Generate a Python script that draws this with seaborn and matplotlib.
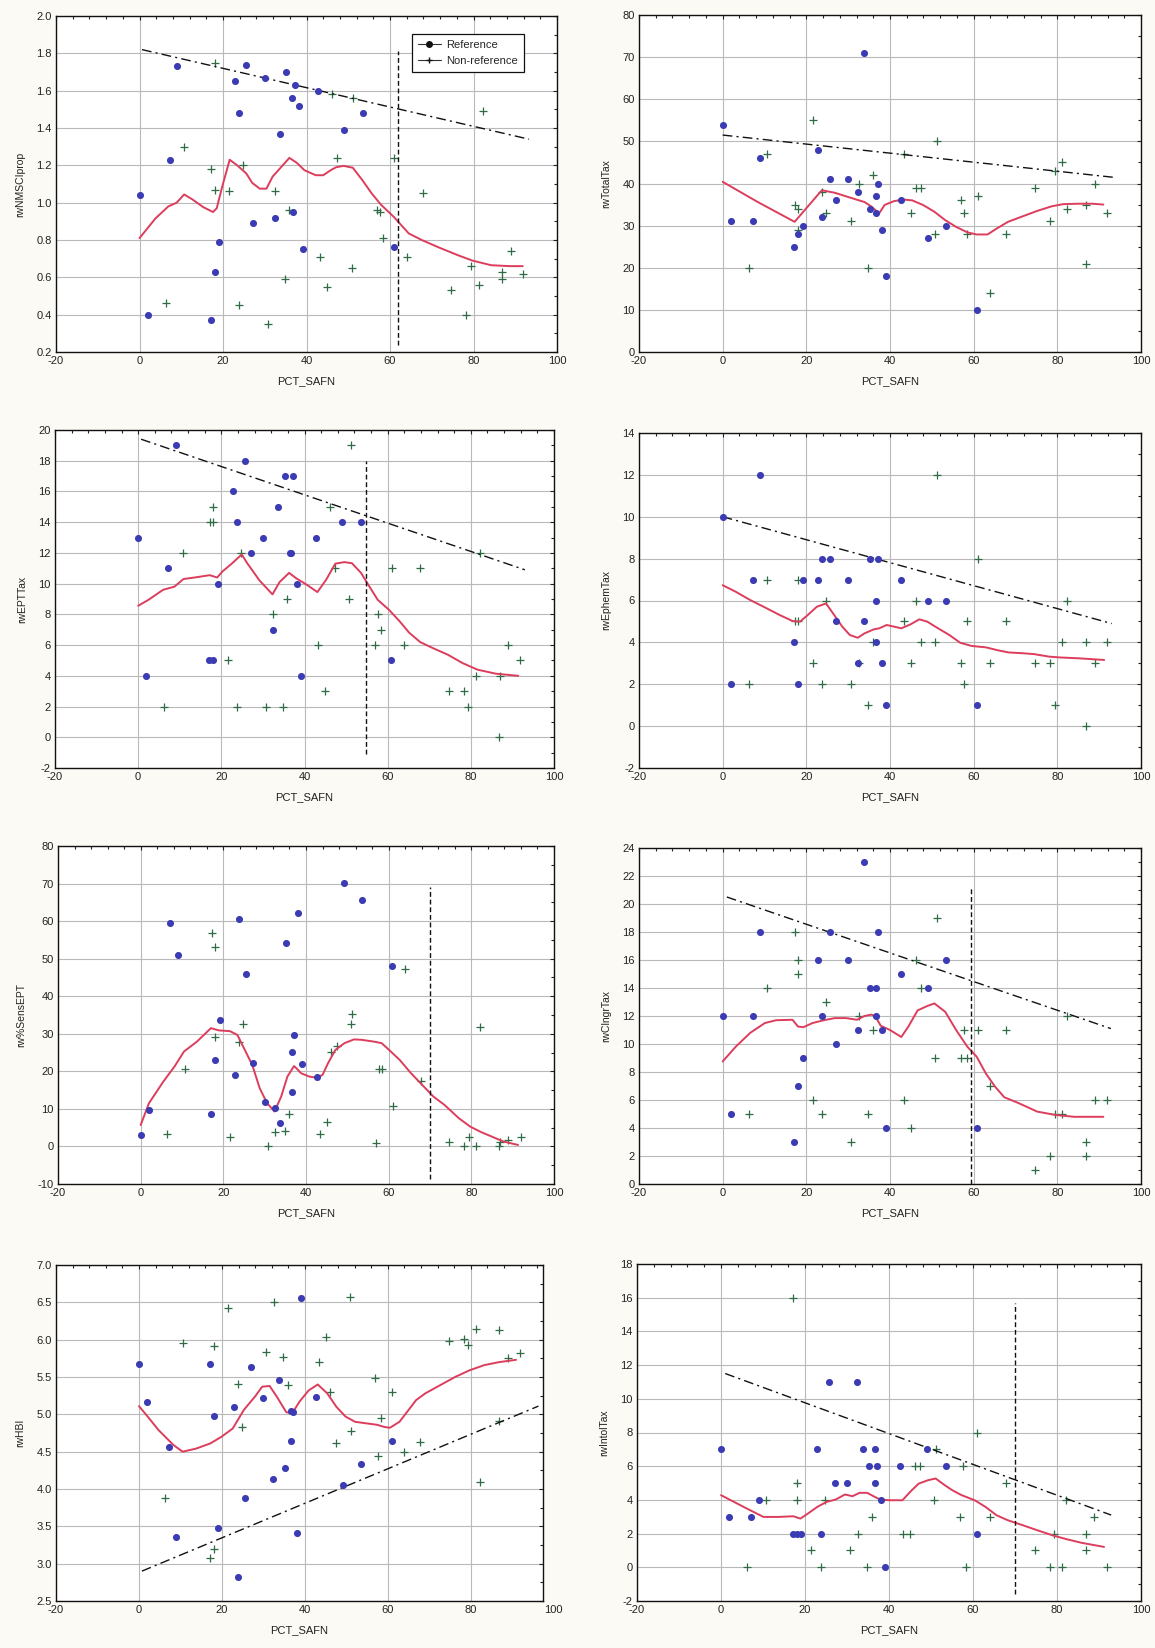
import pandas as pd
import matplotlib
matplotlib.use("Agg")
import matplotlib.pyplot as plt
from matplotlib.ticker import MultipleLocator, FormatStrFormatter
from matplotlib.lines import Line2D
import seaborn as sns

# site positions (PCT_SAFN)
ref_x = [0, 2, 7.2, 9, 17.1, 18, 19.1, 22.8, 23.8, 25.6, 27.1, 30, 32.4, 33.7,
         35.2, 36.6, 36.7, 37.2, 38.1, 39.1, 42.7, 49.1, 53.5, 60.9]
nonref_x = [6.3, 10.7, 17.2, 18.1, 18.1, 21.5, 23.8, 24.8, 30.7, 32.5, 34.8, 35.9,
            43.3, 45.0, 46.1, 47.4, 50.8, 51.2, 56.9, 57.6, 58.3, 61.0, 64.0, 67.8,
            74.7, 78.3, 79.4, 81.2, 82.2, 86.8, 86.9, 88.9, 91.9]

# rwNMSCIprop
nmsci_ref = [1.04, 0.40, 1.23, 1.73, 0.37, 0.63, 0.79, 1.65, 1.48, 1.74, 0.89, 1.67,
             0.92, 1.37, 1.70, 1.56, 0.95, 1.63, 1.52, 0.75, 1.60, 1.39, 1.48, 0.76]
nmsci_non = [0.46, 1.30, 1.18, 1.75, 1.07, 1.06, 0.45, 1.20, 0.35, 1.06, 0.59, 0.96,
             0.71, 0.55, 1.58, 1.24, 0.65, 1.56, 0.96, 0.95, 0.81, 1.24, 0.71, 1.05,
             0.53, 0.40, 0.66, 0.56, 1.49, 0.59, 0.63, 0.74, 0.62]
nmsci_lw_x = [0, 3.8, 6.9, 8.9, 10.7, 12.7, 15.2, 17.6, 18.5, 19.8, 21.6, 23.4, 25.6,
              27.0, 28.8, 30.4, 31.9, 33.9, 35.9, 37.7, 39.5, 42.2, 44.0, 45.8, 47.1,
              48.9, 51.1, 53.4, 55.6, 57.8, 60.9, 64.5, 67.6, 71.7, 76.1, 79.7, 84.2,
              88.6, 91.8]
nmsci_lw_y = [0.81, 0.915, 0.98, 1.0, 1.044, 1.017, 0.977, 0.95, 0.97, 1.085, 1.23,
              1.20, 1.156, 1.106, 1.075, 1.075, 1.14, 1.19, 1.24, 1.213, 1.174, 1.147,
              1.147, 1.174, 1.19, 1.197, 1.187, 1.12, 1.05, 0.99, 0.924, 0.835, 0.80,
              0.76, 0.72, 0.69, 0.665, 0.66, 0.66]
nmsci_up_x = [0.6, 93.3]
nmsci_up_y = [1.82, 1.34]
nmsci_vline = [61.8, 0.24, 1.81]

# rwTotalTax
total_ref = [54, 31, 31, 46, 25, 28, 30, 48, 32, 41, 36, 41, 38, 71, 34, 37, 33, 40,
             29, 18, 36, 27, 30, 10]
total_non = [20, 47, 35, 34, 29, 55, 38, 33, 31, 40, 20, 42, 47, 33, 39, 39, 28, 50,
             36, 33, 28, 37, 14, 28, 39, 31, 43, 45, 34, 21, 35, 40, 33]
total_lw_x = [0, 8.4, 17.2, 23.7, 26.8, 30.3, 33.9, 35.6, 37.4, 38.7, 40.9, 43.1, 45.3,
              47.9, 50.6, 53.2, 55.8, 58.5, 60.7, 63.3, 65.5, 68.2, 71.7, 75.2, 78.7,
              81.4, 84.9, 88.4, 91.0]
total_lw_y = [40.4, 35.6, 30.9, 38.4, 37.8, 36.7, 35.6, 34.5, 32.9, 34.9, 35.8, 36.2,
              36.0, 34.9, 33.3, 31.3, 29.7, 28.4, 27.9, 27.9, 29.3, 30.9, 32.2, 33.5,
              34.6, 35.1, 35.2, 35.2, 35.0]
total_up_x = [0, 94.1]
total_up_y = [51.5, 41.4]

# rwEPTTax
ept_ref = [13, 4, 11, 19, 5, 5, 10, 16, 14, 18, 12, 13, 7, 15, 17, 12, 12, 17, 10, 4,
           13, 14, 14, 5]
ept_non = [2, 12, 14, 15, 14, 5, 2, 12, 2, 8, 2, 9, 6, 3, 15, 11, 9, 19, 6, 8, 7, 11,
           6, 11, 3, 3, 2, 4, 12, 0, 4, 6, 5]
ept_lw_x = [0, 2.5, 6.0, 8.7, 10.9, 13.6, 17.2, 19.0, 20.3, 22.5, 24.9, 26.3, 29.2,
            32.3, 34.0, 36.3, 38.0, 40.7, 43.1, 45.2, 47.4, 49.6, 51.4, 53.6, 55.4,
            57.6, 60.3, 62.9, 65.2, 67.8, 70.9, 74.5, 78.0, 81.6, 86.0, 91.4]
ept_lw_y = [8.56, 8.95, 9.6, 9.8, 10.3, 10.4, 10.55, 10.4, 10.8, 11.3, 11.9, 11.3,
            10.2, 9.3, 10.1, 10.7, 10.35, 9.9, 9.45, 10.25, 11.3, 11.4, 11.33, 10.7,
            9.9, 8.95, 8.3, 7.54, 6.8, 6.2, 5.8, 5.37, 4.83, 4.4, 4.14, 4.0]
ept_up_x = [0.7, 93.0]
ept_up_y = [19.4, 10.9]
ept_vline = [54.7, -1.1, 18.0]

# rwEphemTax
ephem_ref = [10, 2, 7, 12, 4, 2, 7, 7, 8, 8, 5, 7, 3, 5, 8, 6, 4, 8, 3, 1, 7, 6, 6, 1]
ephem_non = [2, 7, 5, 7, 5, 3, 2, 6, 2, 3, 1, 4, 5, 3, 6, 4, 4, 12, 3, 2, 5, 8, 3, 5,
             3, 3, 1, 4, 6, 0, 4, 3, 4]
ephem_lw_x = [0, 3.1, 6.6, 10.1, 13.7, 16.7, 18.5, 20.3, 22.5, 24.7, 26.4, 28.6, 30.4,
              32.3, 33.9, 36.1, 37.4, 39.2, 41.0, 42.7, 44.9, 47.0, 48.9, 51.5, 54.2,
              56.8, 59.5, 63.0, 65.6, 68.3, 71.8, 74.4, 78.0, 80.6, 85.0, 91.2]
ephem_lw_y = [6.73, 6.42, 6.02, 5.67, 5.3, 5.02, 4.99, 5.3, 5.7, 5.86, 5.38, 4.75,
              4.35, 4.22, 4.43, 4.62, 4.67, 4.83, 4.75, 4.67, 4.86, 5.1, 4.99, 4.67,
              4.35, 3.98, 3.83, 3.76, 3.63, 3.52, 3.48, 3.44, 3.32, 3.28, 3.24, 3.16]
ephem_up_x = [0, 93.0]
ephem_up_y = [10.0, 4.9]

# rw%SensEPT
sens_ref = [3.0, 9.7, 59.4, 50.9, 8.7, 23.0, 33.6, 19.0, 60.5, 45.8, 22.3, 11.8, 10.3,
            6.3, 54.3, 14.4, 25.2, 29.6, 62.2, 21.9, 18.5, 70.1, 65.5, 48.1]
sens_non = [3.3, 20.5, 56.8, 53.2, 29.2, 2.5, 27.9, 32.6, 0.0, 3.9, 4.2, 8.6, 3.3, 6.4,
            25.1, 26.8, 32.6, 35.2, 0.9, 20.5, 20.5, 10.8, 47.3, 17.3, 1.1, 0.0, 2.5,
            0.0, 31.7, 0.0, 1.1, 1.7, 2.5]
sens_lw_x = [0, 2, 5.5, 8.2, 10.5, 13.6, 17.0, 18.9, 21.6, 23.4, 25.2, 27.0, 28.8, 30.6,
             32.4, 34.0, 35.5, 37.1, 37.7, 38.8, 40.8, 42.6, 44.0, 45.3, 47.1, 49.3,
             51.6, 53.4, 56.5, 58.3, 60.1, 62.7, 65.4, 68.1, 70.8, 73.5, 77.0, 79.7,
             82.4, 85.0, 87.8, 91.3]
sens_lw_y = [5.7, 11.5, 17.3, 21.3, 25.3, 27.9, 31.5, 30.9, 30.7, 29.7, 25.7, 21.7,
             15.5, 11.5, 9.3, 13.3, 18.6, 21.4, 20.8, 19.5, 18.6, 18.3, 19.05, 22.1,
             25.7, 27.5, 28.5, 28.4, 27.9, 27.5, 25.7, 23.0, 19.5, 16.4, 13.3, 11.06,
             7.5, 5.3, 3.8, 2.6, 1.3, 0.4]
sens_vline = [69.9, -8.7, 69.0]

# rwClngrTax
clngr_ref = [12, 5, 12, 18, 3, 7, 9, 16, 12, 18, 10, 16, 11, 23, 14, 14, 12, 18, 11, 4,
             15, 14, 16, 4]
clngr_non = [5, 14, 18, 16, 15, 6, 5, 13, 3, 12, 5, 11, 6, 4, 16, 14, 9, 19, 9, 11, 9,
             11, 7, 11, 1, 2, 5, 5, 12, 2, 3, 6, 6]
clngr_lw_x = [0, 3.1, 6.6, 10.1, 12.8, 16.7, 18.0, 19.3, 21.5, 24.2, 26.8, 29.5, 32.1,
              33.9, 35.6, 36.5, 37.8, 40.0, 42.7, 44.4, 46.6, 48.8, 50.6, 53.2, 55.8,
              58.5, 60.7, 62.9, 65.1, 67.3, 70.8, 75.2, 79.6, 84.0, 91.0]
clngr_lw_y = [8.75, 9.8, 10.8, 11.5, 11.7, 11.73, 11.25, 11.2, 11.5, 11.7, 11.85,
              11.85, 11.73, 12.0, 12.1, 11.96, 11.3, 11.0, 10.5, 11.25, 12.4, 12.7,
              12.9, 12.3, 11.0, 9.8, 9.1, 7.9, 6.96, 6.2, 5.77, 5.17, 4.93, 4.8, 4.8]
clngr_up_x = [1.0, 92.8]
clngr_up_y = [20.5, 11.1]
clngr_vline = [59.4, 0.0, 21.2]

# rwHBI
hbi_ref = [5.67, 5.16, 4.56, 3.36, 5.67, 4.98, 3.48, 5.10, 2.82, 3.88, 5.63, 5.22,
           4.14, 5.46, 4.28, 4.64, 5.04, 5.03, 3.41, 6.56, 5.23, 4.05, 4.33, 4.64]
hbi_non = [3.88, 5.95, 3.07, 5.91, 3.20, 6.42, 5.40, 4.83, 5.83, 6.50, 5.77, 5.39,
           5.70, 6.03, 5.30, 4.62, 6.57, 4.78, 5.49, 4.44, 4.95, 5.30, 4.49, 4.63,
           5.98, 6.01, 5.93, 6.14, 4.10, 6.13, 4.91, 5.75, 5.82]
hbi_lw_x = [0, 2.1, 4.7, 8.3, 10.5, 13.7, 17.2, 19.9, 22.6, 25.3, 28.0, 29.7, 31.5,
            33.3, 35.5, 36.9, 38.7, 40.9, 43.1, 45.4, 47.6, 49.8, 52.1, 54.7, 57.4,
            59.2, 60.5, 62.8, 64.6, 66.8, 69.0, 72.6, 76.2, 79.7, 83.3, 86.9, 90.9]
hbi_lw_y = [5.11, 4.97, 4.79, 4.59, 4.5, 4.54, 4.61, 4.70, 4.81, 5.06, 5.24, 5.37,
            5.38, 5.23, 5.03, 5.01, 5.17, 5.32, 5.40, 5.28, 5.10, 4.97, 4.90, 4.88,
            4.86, 4.83, 4.82, 4.90, 5.03, 5.19, 5.28, 5.39, 5.50, 5.59, 5.66, 5.70,
            5.73]
hbi_up_x = [0.7, 96.3]
hbi_up_y = [2.9, 5.11]

# rwIntolTax
intol_ref = [7, 3, 3, 4, 2, 2, 2, 7, 2, 11, 5, 5, 11, 7, 6, 7, 5, 6, 4, 0, 6, 7, 6, 2]
intol_non = [0, 4, 16, 5, 4, 1, 0, 4, 1, 2, 0, 3, 2, 2, 6, 6, 4, 7, 3, 6, 0, 8, 3, 5,
             1, 0, 2, 0, 4, 1, 2, 3, 0]
intol_lw_x = [0, 3.1, 6.6, 10.1, 13.7, 17.2, 18.9, 20.7, 22.9, 25.1, 27.3, 29.5, 31.3,
              33.0, 34.8, 36.6, 37.9, 40.1, 43.2, 45.4, 47.1, 49.3, 51.1, 53.3, 55.1,
              57.3, 60.4, 63.0, 65.6, 68.3, 71.8, 75.3, 78.9, 82.4, 85.9, 91.2]
intol_lw_y = [4.28, 3.88, 3.43, 2.99, 2.99, 3.03, 2.89, 3.19, 3.58, 3.88, 4.02, 4.32,
              4.22, 4.42, 4.42, 4.18, 4.02, 3.98, 3.98, 4.57, 4.97, 5.17, 5.27, 4.87,
              4.57, 4.28, 3.98, 3.58, 3.09, 2.79, 2.50, 2.20, 1.90, 1.66, 1.45, 1.21]
intol_up_x = [1.0, 92.9]
intol_up_y = [11.5, 3.1]
intol_vline = [70.0, -1.6, 15.7]

BLUE = '#3b3bb3'
GREEN = '#2f6b45'
RED = '#dd3d5c'
BG = '#fbfaf4'
W, H = 1155, 1648
FS = 8

sns.set_style("white")
plt.rcParams['font.family'] = ['Liberation Sans', 'DejaVu Sans']
plt.rcParams['axes.unicode_minus'] = False

fig = plt.figure(figsize=(W / 100, H / 100), dpi=100, facecolor=BG)


def draw_panel(box, ylabel, ylim, ystep, fmt, ref_y, non_y, lw_x, lw_y,
               up_x=None, up_y=None, vline=None, xmax=100, legend=False):
    l, t, r, b = box
    ax = fig.add_axes([l / W, 1 - b / H, (r - l) / W, (b - t) / H])
    ax.set_facecolor('white')

    ref = pd.DataFrame({'x': ref_x, 'y': ref_y})
    non = pd.DataFrame({'x': nonref_x, 'y': non_y})
    sns.scatterplot(data=non, x='x', y='y', marker='+', s=38, color=GREEN,
                    linewidth=0.9, ax=ax, zorder=3)
    sns.lineplot(x=lw_x, y=lw_y, color=RED, lw=1.4, sort=False, estimator=None,
                 ax=ax, zorder=4)
    sns.scatterplot(data=ref, x='x', y='y', marker='o', s=26, color=BLUE,
                    edgecolor=BLUE, linewidth=0, ax=ax, zorder=5)
    if up_x is not None:
        ax.plot(up_x, up_y, color='#111111', lw=1.0, linestyle=(0, (7, 3, 1.5, 3)),
                zorder=4)
    if vline is not None:
        ax.vlines(vline[0], vline[1], vline[2], colors='#111111', lw=1.0,
                  linestyles=(0, (3.5, 2)), zorder=4)

    ax.set_xlim(-20, xmax)
    ax.set_ylim(*ylim)
    ax.xaxis.set_major_locator(MultipleLocator(20))
    ax.xaxis.set_minor_locator(MultipleLocator(4))
    ax.yaxis.set_major_locator(MultipleLocator(ystep))
    ax.yaxis.set_minor_locator(MultipleLocator(ystep / 2))
    ax.yaxis.set_major_formatter(FormatStrFormatter(fmt))
    ax.grid(True, which='major', color='#b9b9b9', lw=0.8)
    ax.set_axisbelow(True)
    ax.tick_params(which='both', direction='in', top=True, right=True,
                   width=0.8, colors='#222222', labelsize=FS, pad=3)
    ax.tick_params(which='major', length=3)
    ax.tick_params(which='minor', length=2)
    for s in ax.spines.values():
        s.set_color('#111111')
        s.set_linewidth(1.0)
    ax.set_xlabel('PCT_SAFN', fontsize=FS, color='#222222', labelpad=7)
    ax.set_ylabel(ylabel, fontsize=7.5, color='#222222', labelpad=8)

    if xmax < 100:
        ax.annotate('100', xy=(100, 0), xycoords=ax.get_xaxis_transform(),
                    xytext=(0, -3), textcoords='offset points', ha='center',
                    va='top', fontsize=FS, color='#222222', annotation_clip=False)

    if legend:
        handles = [
            Line2D([0], [0], color='#333333', lw=0.8, marker='o', markersize=4,
                   markerfacecolor='#111111', markeredgecolor='#111111'),
            Line2D([0], [0], color='#333333', lw=0.8, marker='+', markersize=5,
                   markeredgecolor='#111111'),
        ]
        leg = ax.legend(handles, ['Reference', 'Non-reference'], loc='upper right',
                        bbox_to_anchor=(0.934, 0.946), borderaxespad=0,
                        fontsize=FS, handlelength=2.0, handletextpad=0.5,
                        labelspacing=0.5, fancybox=False, framealpha=1,
                        edgecolor='#111111', borderpad=0.55)
        leg.get_frame().set_linewidth(0.9)
    else:
        leg = ax.get_legend()
        if leg is not None:
            leg.remove()
    return ax


draw_panel((56, 16, 557, 352), 'rwNMSCIprop', (0.2, 2.0), 0.2, '%.1f',
           nmsci_ref, nmsci_non, nmsci_lw_x, nmsci_lw_y,
           nmsci_up_x, nmsci_up_y, nmsci_vline, legend=True)
draw_panel((639, 15, 1141, 352), 'rwTotalTax', (0, 80), 10, '%d',
           total_ref, total_non, total_lw_x, total_lw_y, total_up_x, total_up_y)
draw_panel((55, 430, 554, 768), 'rwEPTTax', (-2, 20), 2, '%d',
           ept_ref, ept_non, ept_lw_x, ept_lw_y, ept_up_x, ept_up_y, ept_vline)
draw_panel((639, 433, 1141, 768), 'rwEphemTax', (-2, 14), 2, '%d',
           ephem_ref, ephem_non, ephem_lw_x, ephem_lw_y, ephem_up_x, ephem_up_y)
draw_panel((58, 846, 554, 1184), 'rw%SensEPT', (-10, 80), 10, '%d',
           sens_ref, sens_non, sens_lw_x, sens_lw_y, vline=sens_vline)
draw_panel((639, 848, 1141, 1184), 'rwClngrTax', (0, 24), 2, '%d',
           clngr_ref, clngr_non, clngr_lw_x, clngr_lw_y, clngr_up_x, clngr_up_y,
           clngr_vline)
draw_panel((56, 1265, 543, 1601), 'rwHBI', (2.5, 7.0), 0.5, '%.1f',
           hbi_ref, hbi_non, hbi_lw_x, hbi_lw_y, hbi_up_x, hbi_up_y, xmax=97.4)
draw_panel((637, 1264, 1141, 1601), 'rwIntolTax', (-2, 18), 2, '%d',
           intol_ref, intol_non, intol_lw_x, intol_lw_y, intol_up_x, intol_up_y,
           intol_vline)

fig.savefig('out.png', dpi=100, facecolor=BG)
